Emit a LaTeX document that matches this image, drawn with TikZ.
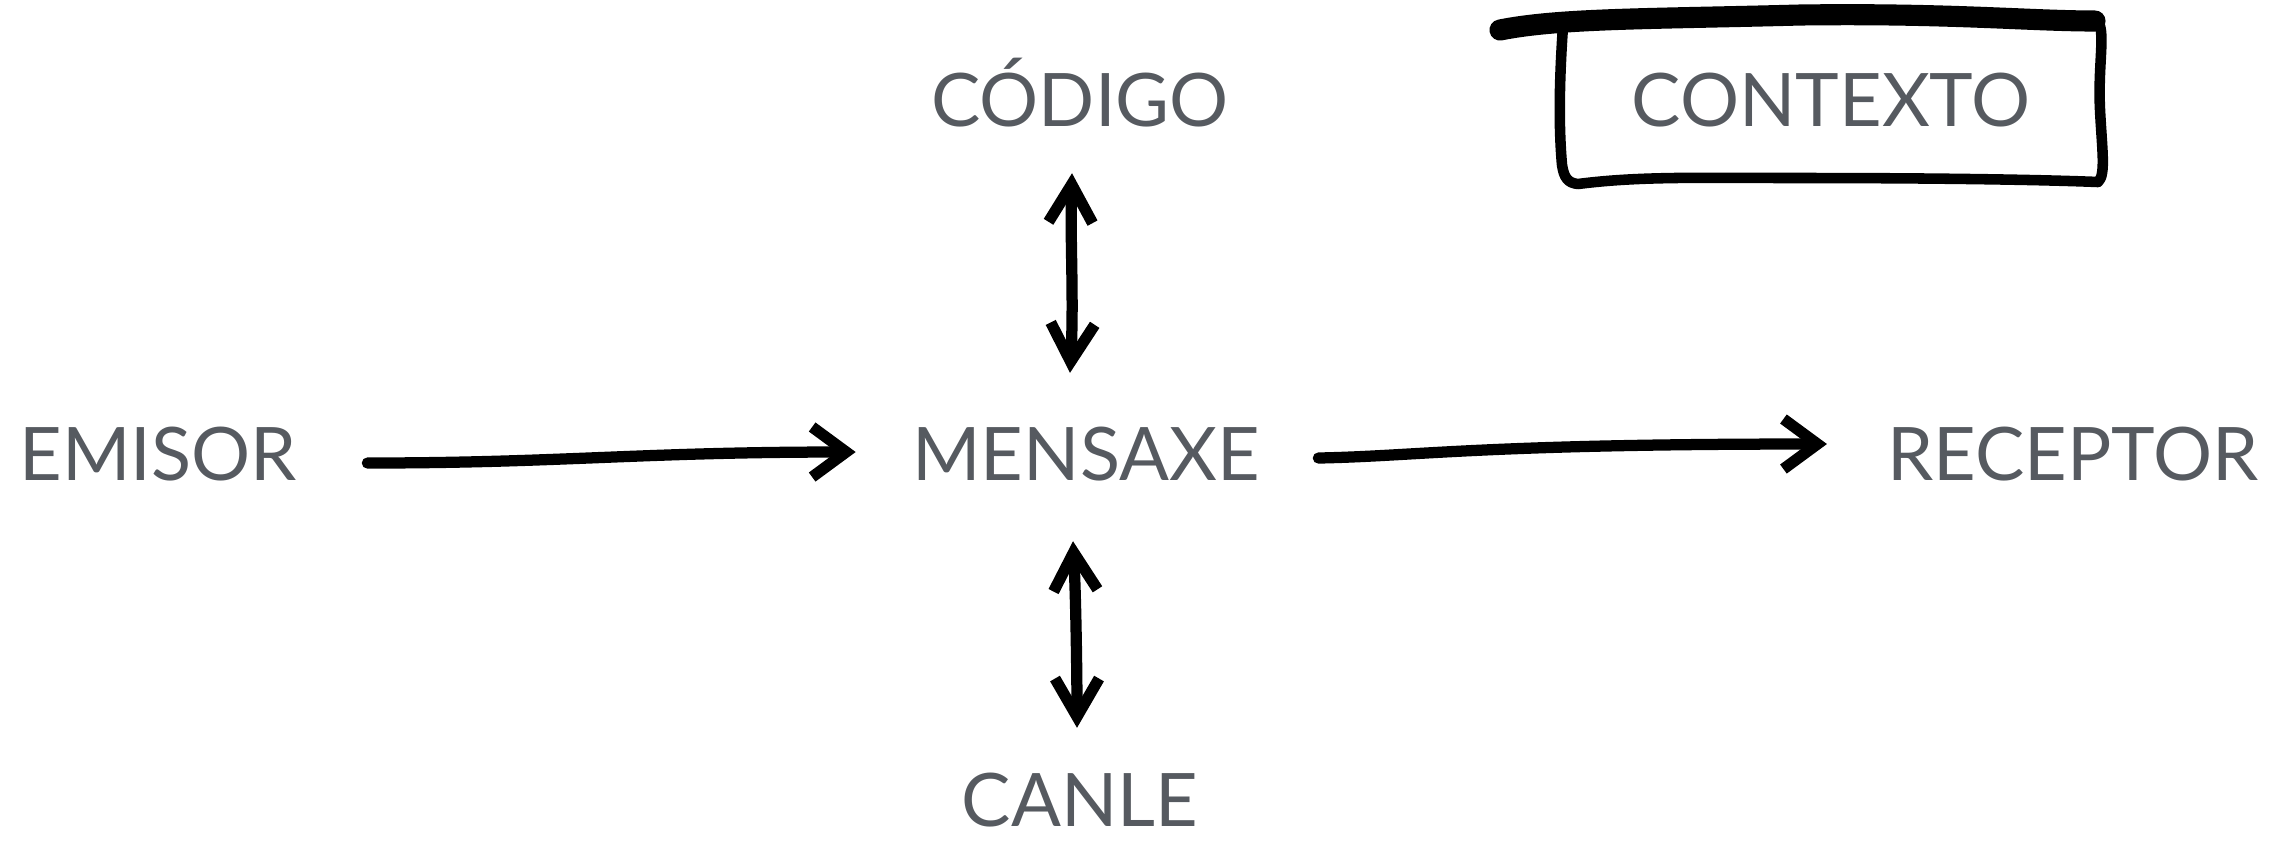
\documentclass[tikz,border=0pt]{standalone}
\usepackage{fontspec}
\setmainfont{Lato}
\usetikzlibrary{arrows.meta,calc}
\definecolor{txtgray}{HTML}{565A60}
\tikzset{
  lbl/.style={inner sep=0pt, text height=0.53cm, text depth=0pt, text=txtgray,
              font=\fontsize{21}{24}\selectfont},
  conn/.style={line width=3.2pt, line cap=round, line join=round,
               -{Straight Barb[length=3.4mm,width=5mm]}},
  biconn/.style={line width=3.2pt, line cap=round, line join=round,
               {Straight Barb[length=3.8mm,width=4.4mm]}-{Straight Barb[length=3.8mm,width=4.4mm]}},
  boxline/.style={line width=3pt, line cap=round, line join=round}
}
\begin{document}
\begin{tikzpicture}[x=0.01cm,y=-0.01cm]
\useasboundingbox (0,0) rectangle (2276,841);
\node[lbl] (codigo) at (1080,100) {CÓDIGO};
\node[lbl] (contexto) at (1831,100) {CONTEXTO};
\node[lbl] (emisor) at (158,454) {EMISOR};
\node[lbl] (mensaxe) at (1086,454) {MENSAXE};
\node[lbl] (receptor) at (2073,454) {RECEPTOR};
\node[lbl] (canle) at (1080,800) {CANLE};
% connectors
\draw[conn] ($(emisor.east)+(70,9)$) .. controls (560,463) and (640,452) .. ($(mensaxe.west)+(-56,-2)$);
\draw[conn] ($(mensaxe.east)+(58,4)$) .. controls (1420,456) and (1480,444) .. ($(receptor.west)+(-60,-10)$);
\draw[biconn] ($(codigo.south)+(-8,46)$) .. controls (1070,240) and (1074,300) .. ($(mensaxe.north)+(-16,-54)$);
\draw[biconn] ($(mensaxe.south)+(-13,60)$) .. controls (1076,600) and (1077,680) .. ($(canle.north)+(-3,-45)$);
% context box (hand drawn)
\draw[boxline] (1563,26) .. controls (1560,70) and (1558,120) .. (1562,165)
  .. controls (1564,178) and (1568,183) .. (1578,184)
  .. controls (1640,176) and (1700,178) .. (1800,178)
  .. controls (1950,178) and (2050,180) .. (2098,182)
  .. controls (2106,175) and (2102,150) .. (2100,110)
  .. controls (2098,70) and (2104,40) .. (2100,26)
  .. controls (2096,18) and (2080,20) .. (2070,20);
\draw[line width=6pt, line cap=round] (1500,30) .. controls (1560,18) and (1650,19) .. (1800,15)
  .. controls (1950,13) and (2030,21) .. (2095,21);
\end{tikzpicture}
\end{document}
